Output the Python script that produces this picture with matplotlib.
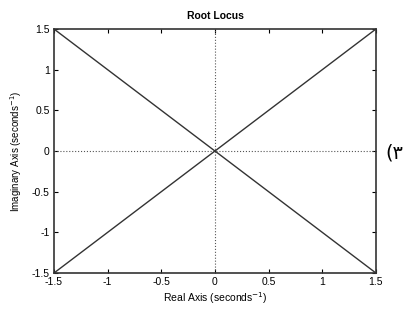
import matplotlib
matplotlib.use("Agg")
import matplotlib.pyplot as plt

# Root locus branches (real, imaginary)
branch1_re = [-1.5, 0.0, 1.5]
branch1_im = [1.5, 0.0, -1.5]
branch2_re = [-1.5, 0.0, 1.5]
branch2_im = [-1.5, 0.0, 1.5]
ticks = [-1.5, -1, -0.5, 0, 0.5, 1, 1.5]
tick_labels = ["-1.5", "-1", "-0.5", "0", "0.5", "1", "1.5"]

plt.rcParams['font.family'] = ['Liberation Sans', 'DejaVu Sans']

fig = plt.figure(figsize=(4.2, 3.09), dpi=100)
ax = fig.add_axes([0.1286, 0.1165, 0.7664, 0.7895])

ax.axhline(0, color='#555555', linestyle=':', linewidth=0.8)
ax.axvline(0, color='#555555', linestyle=':', linewidth=0.8)
ax.plot(branch1_re, branch1_im, color='#333333', linewidth=1.0)
ax.plot(branch2_re, branch2_im, color='#333333', linewidth=1.0)

ax.set_xlim(-1.5, 1.5)
ax.set_ylim(-1.5, 1.5)
ax.set_xticks(ticks)
ax.set_xticklabels(tick_labels)
ax.set_yticks(ticks)
ax.set_yticklabels(tick_labels)
ax.tick_params(direction='in', top=True, right=True, labelsize=7.5, length=3)
ax.tick_params(axis='x', pad=3)
ax.tick_params(axis='y', pad=3)
for s in ax.spines.values():
    s.set_linewidth(1.2)
    s.set_color('#333333')

ax.set_title("Root Locus", fontsize=7.5, fontweight='bold', pad=7)
ax.set_xlabel("Real Axis (seconds$^{-1}$)", fontsize=7.5, labelpad=2)
ax.set_ylabel("Imaginary Axis (seconds$^{-1}$)", fontsize=7, labelpad=6)

fig.text(0.94, 0.505, "(۳", fontsize=14, family=['DejaVu Sans'], ha='center', va='center')

fig.savefig("out.png", dpi=100)
